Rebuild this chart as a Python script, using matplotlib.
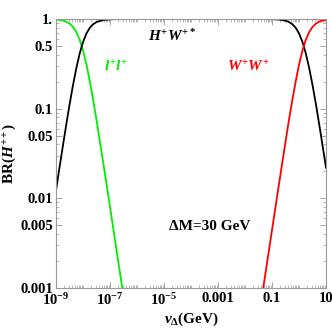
import matplotlib
matplotlib.use("Agg")
import matplotlib.pyplot as plt
from matplotlib.ticker import FixedLocator, LogLocator, NullFormatter

plt.rcParams['font.family'] = ['Liberation Serif', 'DejaVu Serif']
plt.rcParams['mathtext.fontset'] = 'custom'
plt.rcParams['mathtext.rm'] = 'Liberation Serif:bold'
plt.rcParams['mathtext.it'] = 'Liberation Serif:bold:italic'
plt.rcParams['mathtext.bf'] = 'Liberation Serif:bold'

# v_Delta (GeV) sample points
V_LEFT = [1e-9, 10**-8.875, 10**-8.75, 10**-8.625, 10**-8.5, 10**-8.375, 10**-8.25,
          10**-8.125, 1e-8, 10**-7.875, 10**-7.75, 10**-7.625, 10**-7.5, 10**-7.25,
          1e-7, 10**-6.75, 10**-6.5]
BR_LL = [0.988, 0.978, 0.962, 0.934, 0.890, 0.820, 0.719, 0.590, 0.447, 0.313,
         0.204, 0.126, 0.0749, 0.0249, 0.00803, 0.00255, 0.000808]

V_HW = [1e-9, 10**-8.875, 10**-8.75, 10**-8.625, 10**-8.5, 10**-8.375, 10**-8.25,
        10**-8.125, 1e-8, 10**-7.875, 10**-7.75, 10**-7.625, 10**-7.5, 10**-7.25,
        1e-7, 10**-6.75, 10**-6.5, 1e-6, 1e-5, 1e-4, 1e-3, 1e-2, 10**-1.5, 0.1,
        10**-0.75, 10**-0.5, 10**-0.375, 10**-0.25, 10**-0.125, 1.0, 10**0.125,
        10**0.25, 10**0.375, 10**0.5, 10**0.625, 10**0.75, 10**0.875, 10.0]
BR_HW = [0.0122, 0.0216, 0.0376, 0.0651, 0.110, 0.180, 0.281, 0.410, 0.553, 0.687,
         0.796, 0.874, 0.925, 0.975, 0.992, 0.997, 0.999, 1.0, 1.0, 1.0, 1.0,
         0.9999, 0.9996, 0.9956, 0.986, 0.957, 0.926, 0.877, 0.800, 0.692, 0.558,
         0.416, 0.286, 0.184, 0.113, 0.0664, 0.0384, 0.0220]

V_WW = [10**-1.5, 0.1, 10**-0.75, 10**-0.5, 10**-0.375, 10**-0.25, 10**-0.125, 1.0,
        10**0.125, 10**0.25, 10**0.375, 10**0.5, 10**0.625, 10**0.75, 10**0.875, 10.0]
BR_WW = [0.000445, 0.00443, 0.01387, 0.0426, 0.074, 0.123, 0.200, 0.308, 0.442,
         0.584, 0.714, 0.816, 0.887, 0.934, 0.962, 0.978]

X_TICKS = [1e-9, 1e-7, 1e-5, 1e-3, 1e-1, 10]
X_LABELS = [r'$\mathbf{10^{-9}}$', r'$\mathbf{10^{-7}}$', r'$\mathbf{10^{-5}}$',
            '0.001', '0.1', '10']
Y_TICKS = [1, 0.5, 0.1, 0.05, 0.01, 0.005, 0.001]
Y_LABELS = ['1.', '0.5', '0.1', '0.05', '0.01', '0.005', '0.001']

W, H = 332, 333


def put(fig, x, y, s, **kw):
    # position given in pixels from the top-left corner
    fig.text(x / W, 1 - y / H, s, ha='center', va='center', **kw)


def main():
    fig = plt.figure(figsize=(W / 100, H / 100), dpi=100)
    ax = fig.add_axes([56 / W, 1 - 288 / H, 270 / W, 269 / H])
    ax.set_xscale('log')
    ax.set_yscale('log')
    ax.set_xlim(1e-9, 10)
    ax.set_ylim(0.001, 1)

    ax.plot(V_LEFT, BR_LL, color='#00ee00', lw=1.3)
    ax.plot(V_HW, BR_HW, color='black', lw=1.3)
    ax.plot(V_WW, BR_WW, color='red', lw=1.3)

    ax.xaxis.set_major_locator(FixedLocator(X_TICKS))
    ax.set_xticklabels(X_LABELS)
    ax.xaxis.set_minor_locator(LogLocator(base=10, subs='all', numticks=50))
    ax.xaxis.set_minor_formatter(NullFormatter())
    ax.yaxis.set_major_locator(FixedLocator(Y_TICKS))
    ax.set_yticklabels(Y_LABELS)
    ax.yaxis.set_minor_locator(LogLocator(base=10, subs='all', numticks=50))
    ax.yaxis.set_minor_formatter(NullFormatter())

    for sp in ax.spines.values():
        sp.set_color('#999999')
        sp.set_linewidth(0.8)
    ax.tick_params(which='both', direction='in', top=True, right=True,
                   color='#999999', labelsize=10.5)
    ax.tick_params(which='major', length=4, width=0.6)
    ax.tick_params(which='minor', length=2, width=0.5)
    ax.tick_params(axis='x', pad=3)
    ax.tick_params(axis='y', pad=2)
    for lab in ax.get_xticklabels() + ax.get_yticklabels():
        lab.set_fontweight('bold')

    ax.set_ylabel(r'BR($H^{++}$)', fontsize=11, fontweight='bold', labelpad=2)
    put(fig, 191, 319, r'$\nu_{\Delta}$(GeV)', fontsize=11, fontweight='bold')

    put(fig, 172, 36, r'$H^{+}W^{+*}$', fontsize=11, color='black')
    put(fig, 116, 67, r'$l^{+}l^{+}$', fontsize=11, color='#00ee00')
    put(fig, 249, 67, r'$W^{+}W^{+}$', fontsize=11, color='red')
    put(fig, 210, 226, 'ΔM=30 GeV', fontsize=11, fontweight='bold', color='black')

    fig.savefig('out.png', dpi=100)


if __name__ == '__main__':
    main()
